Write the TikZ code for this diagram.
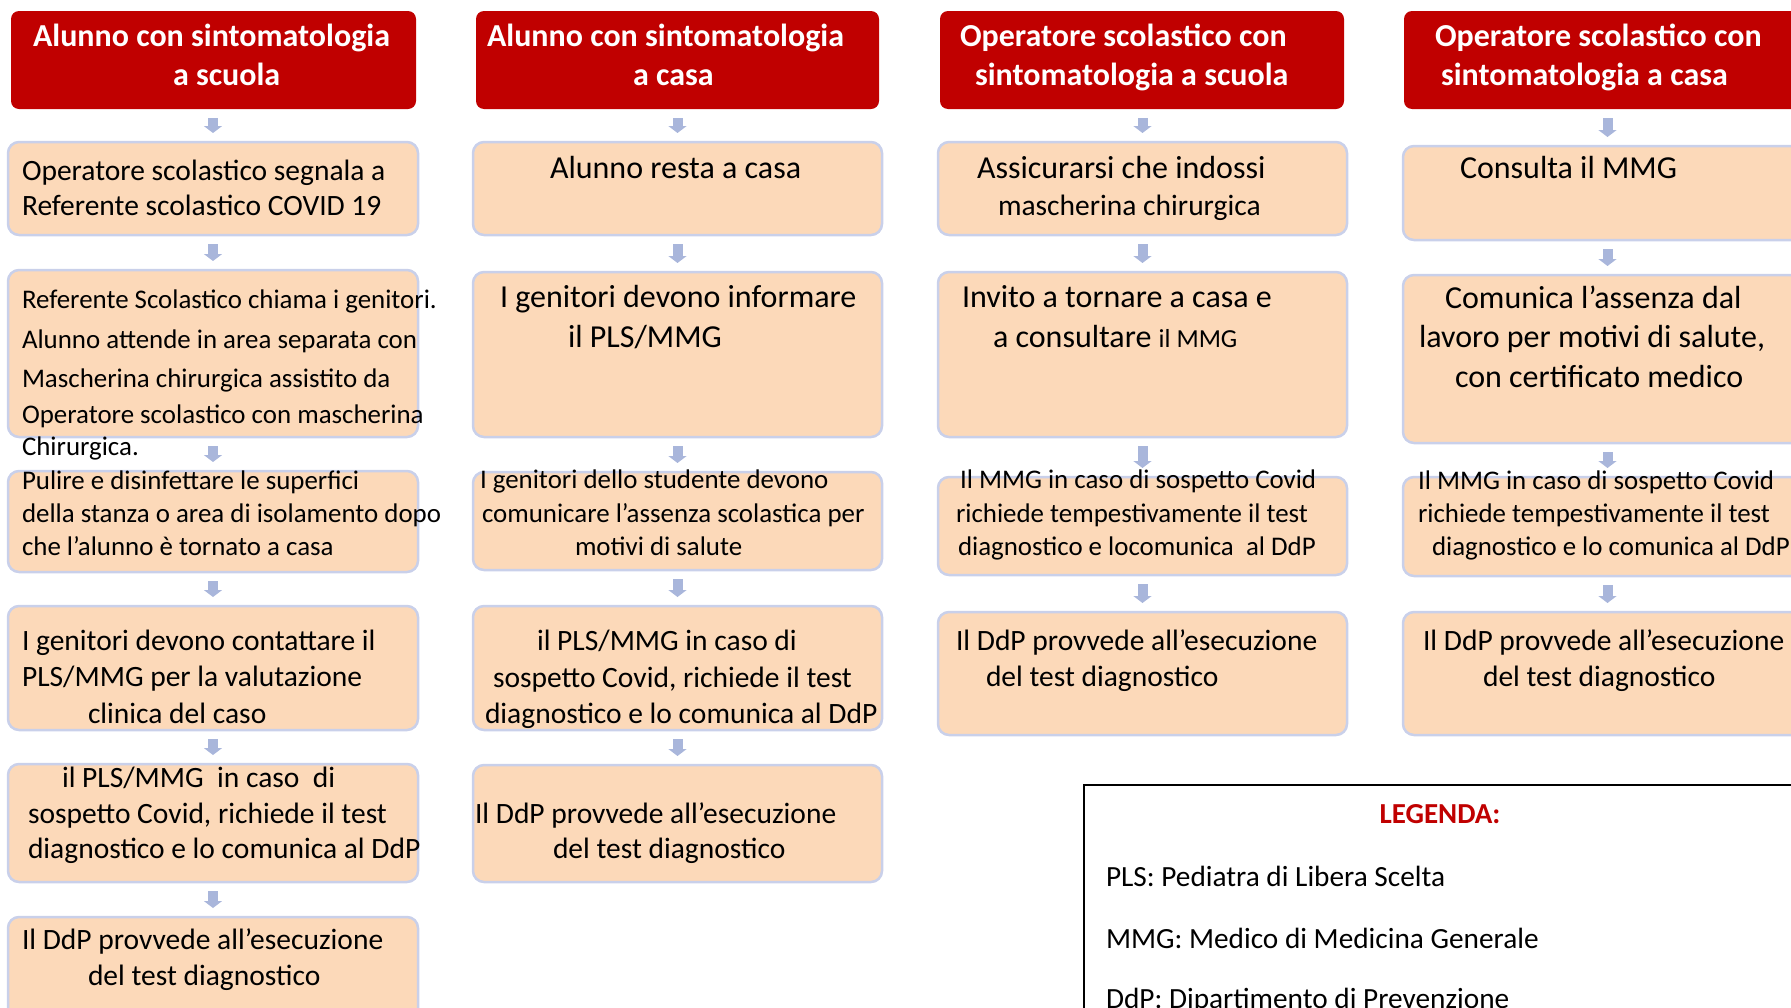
\documentclass[tikz,border=0pt]{standalone}
\usepackage{fontspec}
\setmainfont{Carlito}
\usetikzlibrary{arrows.meta}
\definecolor{hdrred}{HTML}{C00000}
\definecolor{boxfill}{HTML}{FCD9B9}
\definecolor{boxline}{HTML}{C9D0EA}
\definecolor{arrowc}{HTML}{A9B6DB}
\tikzset{
  hdr/.style={draw=none, fill=hdrred, rounded corners=8pt, inner sep=0pt, outer sep=0pt, anchor=north west},
  obox/.style={draw=boxline, line width=2.5pt, fill=boxfill, rounded corners=11pt, inner sep=0pt, outer sep=0pt, anchor=north west},
  blk/.style={draw=arrowc, line width=10pt, -{Triangle[width=18pt,length=7pt]}, shorten <=9pt, shorten >=9pt},
  tx/.style={anchor=base west, inner sep=0pt, outer sep=0pt, text=black},
  htx/.style={anchor=base west, inner sep=0pt, outer sep=0pt, text=white, font=\fontsize{32}{38}\selectfont\bfseries},
  fa/.style={font=\fontsize{26.9}{32}\selectfont},
  fb/.style={font=\fontsize{29.5}{35}\selectfont},
  fc/.style={font=\fontsize{32}{39}\selectfont},
  fd/.style={font=\fontsize{29.3}{35}\selectfont},
}
\begin{document}
\begin{tikzpicture}[x=1pt,y=-1pt]
\useasboundingbox (0,0) rectangle (1791,1007);
\clip (0,0) rectangle (1791,1007);
% ---------- headers
\node[hdr, minimum width=405pt, minimum height=98pt] (h1) at (11,11) {};
\node[hdr, minimum width=403pt, minimum height=98pt] (h2) at (476,11) {};
\node[hdr, minimum width=404pt, minimum height=98pt] (h3) at (940,11) {};
\node[hdr, minimum width=405pt, minimum height=98pt] (h4) at (1404,11) {};
% ---------- column 1 boxes
\node[obox, minimum width=410pt, minimum height=93pt] (a1) at (8,142) {};
\node[obox, minimum width=410pt, minimum height=167pt] (a2) at (8,270) {};
\node[obox, minimum width=410pt, minimum height=101pt] (a3) at (8,471) {};
\node[obox, minimum width=410pt, minimum height=124pt] (a4) at (8,606) {};
\node[obox, minimum width=410pt, minimum height=118pt] (a5) at (8,764) {};
\node[obox, minimum width=410pt, minimum height=130pt] (a6) at (8,917) {};
% ---------- column 2 boxes
\node[obox, minimum width=409pt, minimum height=93pt] (b1) at (473,142) {};
\node[obox, minimum width=409pt, minimum height=165pt] (b2) at (473,272) {};
\node[obox, minimum width=409pt, minimum height=98pt] (b3) at (473,472) {};
\node[obox, minimum width=409pt, minimum height=124pt] (b4) at (473,606) {};
\node[obox, minimum width=409pt, minimum height=117pt] (b5) at (473,765) {};
% ---------- column 3 boxes
\node[obox, minimum width=409pt, minimum height=93pt] (c1) at (938,142) {};
\node[obox, minimum width=409pt, minimum height=165pt] (c2) at (938,272) {};
\node[obox, minimum width=409pt, minimum height=98pt] (c3) at (938,477) {};
\node[obox, minimum width=409pt, minimum height=123pt] (c4) at (938,612) {};
% ---------- column 4 boxes
\node[obox, minimum width=409pt, minimum height=94pt] (d1) at (1403,146) {};
\node[obox, minimum width=409pt, minimum height=168pt] (d2) at (1403,275) {};
\node[obox, minimum width=409pt, minimum height=99pt] (d3) at (1403,477) {};
\node[obox, minimum width=409pt, minimum height=123pt] (d4) at (1403,612) {};
% ---------- arrows
\foreach \p/\q in {h1/a1,a1/a2,a2/a3,a3/a4,a4/a5,a5/a6,
                   h2/b1,b1/b2,b2/b3,b3/b4,b4/b5,
                   h3/c1,c1/c2,c2/c3,c3/c4,
                   h4/d1,d1/d2,d2/d3,d3/d4}
  \draw[blk] (\q.north |- \p.south) -- (\q.north);
% ---------- header texts
\node[htx] (h1t1) at (33,46.5) {Alunno con sintomatologia};
\node[htx] (h1t2) at (173,85) {a scuola};
\node[htx] (h2t1) at (487,46.5) {Alunno con sintomatologia};
\node[htx] (h2t2) at (633,85) {a casa};
\node[htx] (h3t1) at (960,46.5) {Operatore scolastico con};
\node[htx] (h3t2) at (975,85) {sintomatologia a scuola};
\node[htx] (h4t1) at (1435,46.5) {Operatore scolastico con};
\node[htx] (h4t2) at (1441,85) {sintomatologia a casa};
% ---------- column 1 texts
\node[tx,fb] (a1t1) at (22,180) {Operatore scolastico segnala a};
\node[tx,fb] (a1t2) at (22,215) {Referente scolastico COVID 19};
\node[tx,fa] (a2t1) at (22,308) {Referente Scolastico chiama i genitori.};
\node[tx,fa] (a2t2) at (22,348) {Alunno attende in area separata con};
\node[tx,fa] (a2t3) at (22,387) {Mascherina chirurgica assistito da};
\node[tx,fa] (a2t4) at (22,423) {Operatore scolastico con mascherina};
\node[tx,fa] (a2t5) at (22,455) {Chirurgica.};
\node[tx,fa] (a3t1) at (22,489) {Pulire e disinfettare le superfici};
\node[tx,fa] (a3t2) at (22,522) {della stanza o area di isolamento dopo};
\node[tx,fa] (a3t3) at (22,555) {che l’alunno è tornato a casa};
\node[tx,fb] (a4t1) at (22,650) {I genitori devono contattare il};
\node[tx,fb] (a4t2) at (22,686) {PLS/MMG per la valutazione};
\node[tx,fb] (a4t3) at (88,723) {clinica del caso};
\node[tx,fb] (a5t1) at (62,787) {il PLS/MMG\ \ in caso\ \ di};
\node[tx,fb] (a5t2) at (28,823) {sospetto Covid, richiede il test};
\node[tx,fb] (a5t3) at (28,858) {diagnostico e lo comunica al DdP};
\node[tx,fb] (a6t1) at (22,949) {Il DdP provvede all’esecuzione};
\node[tx,fb] (a6t2) at (88,985) {del test diagnostico};
% ---------- column 2 texts
\node[tx,fc] (b1t1) at (550,178) {Alunno resta a casa};
\node[tx,fc] (b2t1) at (500,307) {I genitori devono informare};
\node[tx,fc] (b2t2) at (568,347) {il PLS/MMG};
\node[tx,fa] (b3t1) at (480,488) {I genitori dello studente devono};
\node[tx,fa] (b3t2) at (482,522) {comunicare l’assenza scolastica per};
\node[tx,fa] (b3t3) at (575,555) {motivi di salute};
\node[tx,fb] (b4t1) at (537,650) {il PLS/MMG in caso di};
\node[tx,fb] (b4t2) at (493,687) {sospetto Covid, richiede il test};
\node[tx,fb] (b4t3) at (485,723) {diagnostico e lo comunica al DdP};
\node[tx,fb] (b5t1) at (475,823) {Il DdP provvede all’esecuzione};
\node[tx,fb] (b5t2) at (553,858) {del test diagnostico};
% ---------- column 3 texts
\node[tx,fc] (c1t1) at (977,178) {Assicurarsi che indossi};
\node[tx,fb] (c1t2) at (998,215) {mascherina chirurgica};
\node[tx,fc] (c2t1) at (962,307) {Invito a tornare a casa e};
\node[tx,fc] (c2t2) at (993,347) {a consultare {\fontsize{26}{31}\selectfont il MMG}};
\node[tx,fa] (c3t1) at (960,488) {Il MMG in caso di sospetto Covid};
\node[tx,fa] (c3t2) at (956,522) {richiede tempestivamente il test};
\node[tx,fa] (c3t3) at (958,555) {diagnostico e locomunica\ \ al DdP};
\node[tx,fb] (c4t1) at (956,650) {Il DdP provvede all’esecuzione};
\node[tx,fb] (c4t2) at (986,686) {del test diagnostico};
% ---------- column 4 texts
\node[tx,fc] (d1t1) at (1460,178) {Consulta il MMG};
\node[tx,fc] (d2t1) at (1445,308) {Comunica l’assenza dal};
\node[tx,fc] (d2t2) at (1419,347) {lavoro per motivi di salute,};
\node[tx,fc] (d2t3) at (1455,387) {con certificato medico};
\node[tx,fa] (d3t1) at (1418,489) {Il MMG in caso di sospetto Covid};
\node[tx,fa] (d3t2) at (1418,522) {richiede tempestivamente il test};
\node[tx,fa] (d3t3) at (1432,555) {diagnostico e lo comunica al DdP};
\node[tx,fb] (d4t1) at (1423,650) {Il DdP provvede all’esecuzione};
\node[tx,fb] (d4t2) at (1483,686) {del test diagnostico};
% ---------- legend
\node[draw=black, line width=2pt, fill=white, inner sep=0pt, outer sep=0pt, anchor=north west,
      minimum width=760pt, minimum height=260pt] (leg) at (1084,785) {};
\node[anchor=base, inner sep=0pt, text=hdrred, font=\fontsize{29}{35}\selectfont\bfseries] (legt) at (1440,823) {LEGENDA:};
\node[tx,fd] (leg1) at (1106,886) {PLS: Pediatra di Libera Scelta};
\node[tx,fd] (leg2) at (1106,948) {MMG: Medico di Medicina Generale};
\node[tx,fd] (leg3) at (1106,1008) {DdP: Dipartimento di Prevenzione};
\end{tikzpicture}
\end{document}
